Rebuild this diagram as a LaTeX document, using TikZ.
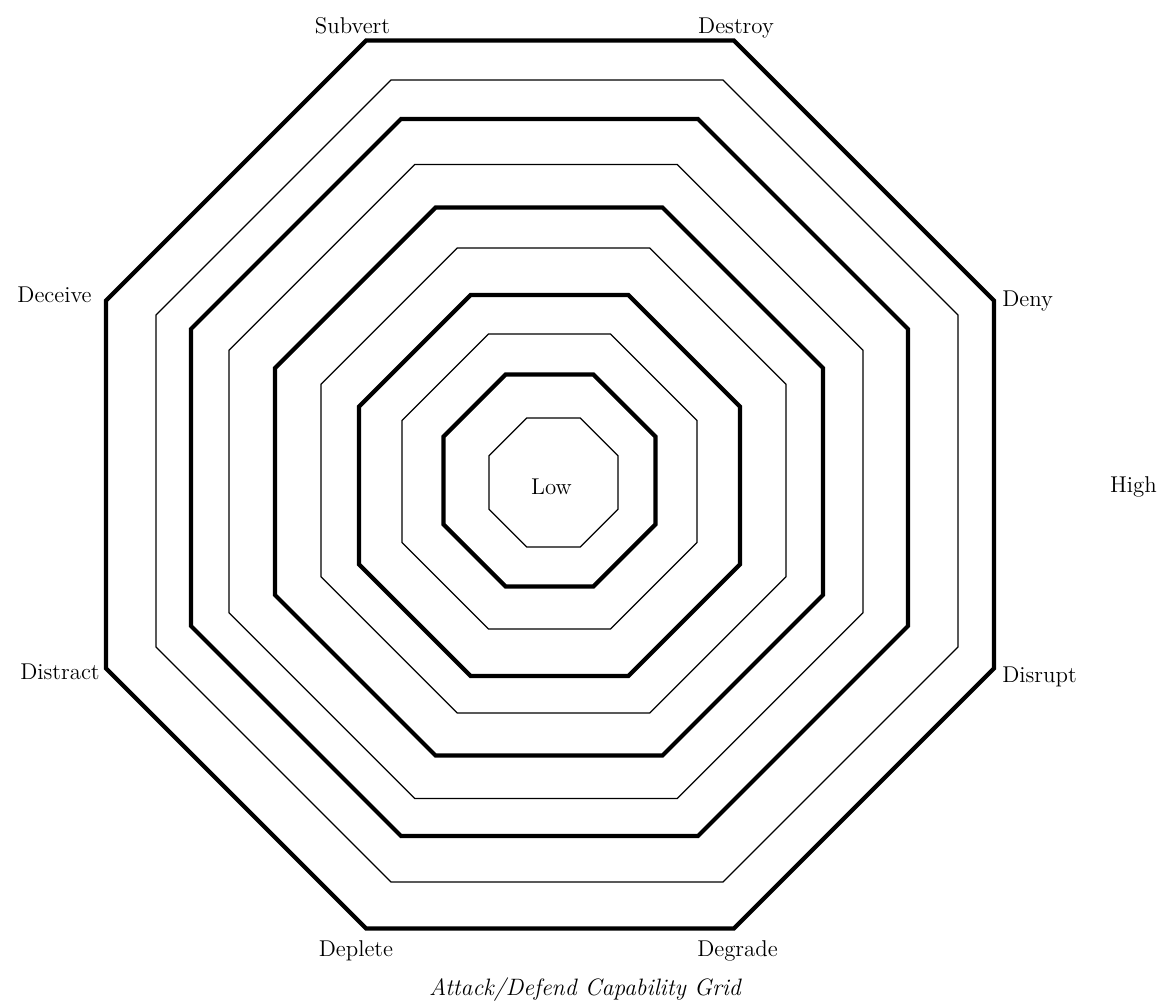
\documentclass[tikz,border=0pt]{standalone}
\usepackage{tikz}
\usetikzlibrary{positioning}

\begin{document}
\begin{tikzpicture}[
      x=0.02cm, y=-0.02cm,
      heavy/.style={draw=black, line width=2.4pt},
      fine/.style={draw=black, line width=0.7pt},
      tag/.style={font=\fontsize{13}{15}\selectfont, inner sep=0pt},
      legend/.style={font=\fontsize{13.5}{16}\selectfont\itshape, inner sep=0pt}
  ]
      \useasboundingbox (0,0) rectangle (1166,1001);

      % Octagonos concentricos (centro x / centro y / apotema / traco)
      \foreach \cx/\cy/\a/\w in {550/484.5/444/heavy, 557/481/401/fine,
                                 549.5/477.5/358.5/heavy, 546/481.5/317/fine,
                                 549/481.5/274/heavy, 553.5/480.5/232.5/fine,
                                 549.5/485.5/190.5/heavy, 549.5/481.5/147.5/fine,
                                 549.5/480.5/106/heavy, 553.5/482.5/64.5/fine}
        \draw[\w] ({\cx-0.4142*\a},{\cy-\a}) -- ({\cx+0.4142*\a},{\cy-\a})
                  -- ({\cx+\a},{\cy-0.4142*\a}) -- ({\cx+\a},{\cy+0.4142*\a})
                  -- ({\cx+0.4142*\a},{\cy+\a}) -- ({\cx-0.4142*\a},{\cy+\a})
                  -- ({\cx-\a},{\cy+0.4142*\a}) -- ({\cx-\a},{\cy-0.4142*\a}) -- cycle;

      % Rotulos dos vertices
      \node[tag, anchor=base] (sub) at (352.5,33) {Subvert};
      \node[tag, anchor=base] (des) at (736,33)   {Destroy};
      \node[tag, anchor=base east] (dec) at (92,302)  {Deceive};
      \node[tag, anchor=base west] (den) at (1002,306) {Deny};
      \node[tag, anchor=base east] (dis) at (100,679) {Distract};
      \node[tag, anchor=base west] (dsr) at (1002,682) {Disrupt};
      \node[tag, anchor=base] (dep) at (356,956)   {Deplete};
      \node[tag, anchor=base] (deg) at (737.5,956) {Degrade};

      % Escala
      \node[tag, anchor=base] (low)  at (551.5,494)  {Low};
      \node[tag, anchor=base] (high) at (1133.5,492) {High};

      % Legenda
      \node[legend, anchor=base] (cap) at (585,995) {Attack/Defend Capability Grid};
  \end{tikzpicture}
\end{document}
